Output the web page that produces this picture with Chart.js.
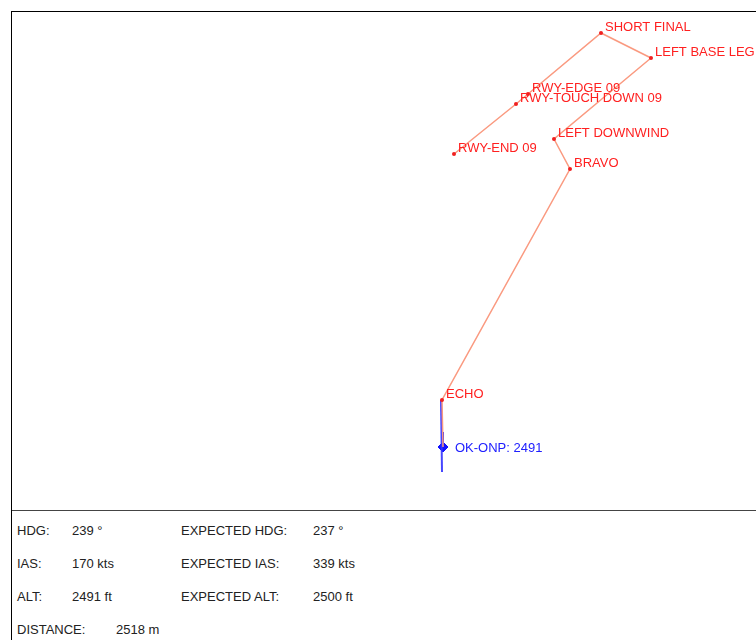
<!DOCTYPE html>
<html>
<head>
<meta charset="utf-8">
<script src="https://cdn.jsdelivr.net/npm/chart.js@4.4.1/dist/chart.umd.min.js"></script>
<style>
  body { margin: 0; background: #fff; font-family: "Liberation Sans", Arial, sans-serif; }
  #map { position: absolute; left: 11px; top: 11px; width: 745px; height: 498px;
         border-left: 1px solid #000; border-top: 1px solid #000; border-bottom: 1px solid #444; }
  #panel { position: absolute; left: 11px; top: 510px; width: 745px; height: 130px;
           border-left: 1px solid #000; }
  #wrap { position: absolute; left: 0; top: 0; width: 744px; height: 497px; }
  .t { position: absolute; font-size: 13px; color: #222; line-height: 14px; }
</style>
</head>
<body>
<div id="map"><div id="wrap"><canvas id="route"></canvas></div></div>
<div id="panel"></div>

<script>
// waypoints, map units (east / north)
var wpNames = ['ECHO', 'BRAVO', 'LEFT DOWNWIND', 'LEFT BASE LEG', 'SHORT FINAL', 'RWY-EDGE 09', 'RWY-TOUCH DOWN 09', 'RWY-END 09'];
var wpEast  = [430, 558, 542, 639, 589, 516, 504, 442];
var wpNorth = [109, 340, 370, 451, 476, 415, 405, 355];

// aircraft
var acName = 'OK-ONP';
var acEast = 431, acNorth = 62;
var acHdgTip = [431, 77];
var trackEast  = [429, 430];
var trackNorth = [109, 37];

// info panel
var infoLabels = ['HDG:', 'IAS:', 'ALT:'];
var infoValues = ['239 °', '170 kts', '2491 ft'];
var expLabels  = ['EXPECTED HDG:', 'EXPECTED IAS:', 'EXPECTED ALT:'];
var expValues  = ['237 °', '339 kts', '2500 ft'];
var distance   = '2518 m';

var acAlt = 2491;

var routePts = [{x: acEast, y: acNorth}];
for (var i = 0; i < wpNames.length; i++) {
	routePts.push({x: wpEast[i], y: wpNorth[i]});
}

var labelPlugin = {
	id: 'labels',
	afterDatasetsDraw: function(chart) {
		var ctx = chart.ctx;
		ctx.save();
		var meta = chart.getDatasetMeta(0);
		ctx.font = '13px "Liberation Sans", Arial, sans-serif';
		ctx.fillStyle = '#ff2020';
		ctx.textBaseline = 'alphabetic';
		for (var i = 1; i < meta.data.length; i++) {
			var p = meta.data[i];
			ctx.fillText(wpNames[i - 1], p.x + 4, p.y - 2);
		}
		var ac = chart.getDatasetMeta(3).data[0];
		ctx.font = '13px "Liberation Sans", Arial, sans-serif';
		ctx.fillStyle = '#2020ff';
		ctx.textBaseline = 'middle';
		ctx.fillText(acName + ': ' + acAlt, ac.x + 12, ac.y + 1);
		ctx.restore();
	}
};

new Chart(document.getElementById('route'), {
	type: 'scatter',
	data: {
		datasets: [{
			data: routePts,
			showLine: true,
			borderColor: '#fa9a80',
			borderWidth: 1.5,
			pointRadius: function(c) { return c.dataIndex === 0 ? 0 : 2; },
			pointBackgroundColor: '#f02020',
			pointBorderWidth: 0
		}, {
			data: [{x: trackEast[0], y: trackNorth[0]}, {x: trackEast[1], y: trackNorth[1]}],
			showLine: true,
			borderColor: 'rgba(50,50,255,0.9)',
			borderWidth: 2,
			pointRadius: 0
		}, {
			data: [{x: acEast, y: acNorth}, {x: acHdgTip[0], y: acHdgTip[1]}],
			showLine: true,
			borderColor: '#2020ff',
			borderWidth: 2,
			pointRadius: 0
		}, {
			data: [{x: acEast, y: acNorth}],
			pointStyle: 'rectRot',
			pointRadius: 5,
			backgroundColor: '#1010ff',
			borderColor: '#1010ff'
		}]
	},
	options: {
		responsive: true,
		maintainAspectRatio: false,
		animation: false,
		layout: { padding: 0, autoPadding: false },
		plugins: { legend: { display: false }, tooltip: { enabled: false } },
		scales: {
			x: { type: 'linear', display: false, min: 0, max: 744 },
			y: { type: 'linear', display: false, min: 0, max: 497 }
		}
	},
	plugins: [labelPlugin]
});

// info panel text
var panel = document.getElementById('panel');
function addText(txt, x, y) {
	var d = document.createElement('div');
	d.className = 't';
	d.textContent = txt;
	d.style.left = x + 'px';
	d.style.top = y + 'px';
	panel.appendChild(d);
}
for (var r = 0; r < infoLabels.length; r++) {
	var y = 14 + r * 33;
	addText(infoLabels[r], 5, y);
	addText(infoValues[r], 60, y);
	addText(expLabels[r], 169, y);
	addText(expValues[r], 301, y);
}
addText('DISTANCE:', 5, 113);
addText(distance, 104, 113);
</script>
</body>
</html>
